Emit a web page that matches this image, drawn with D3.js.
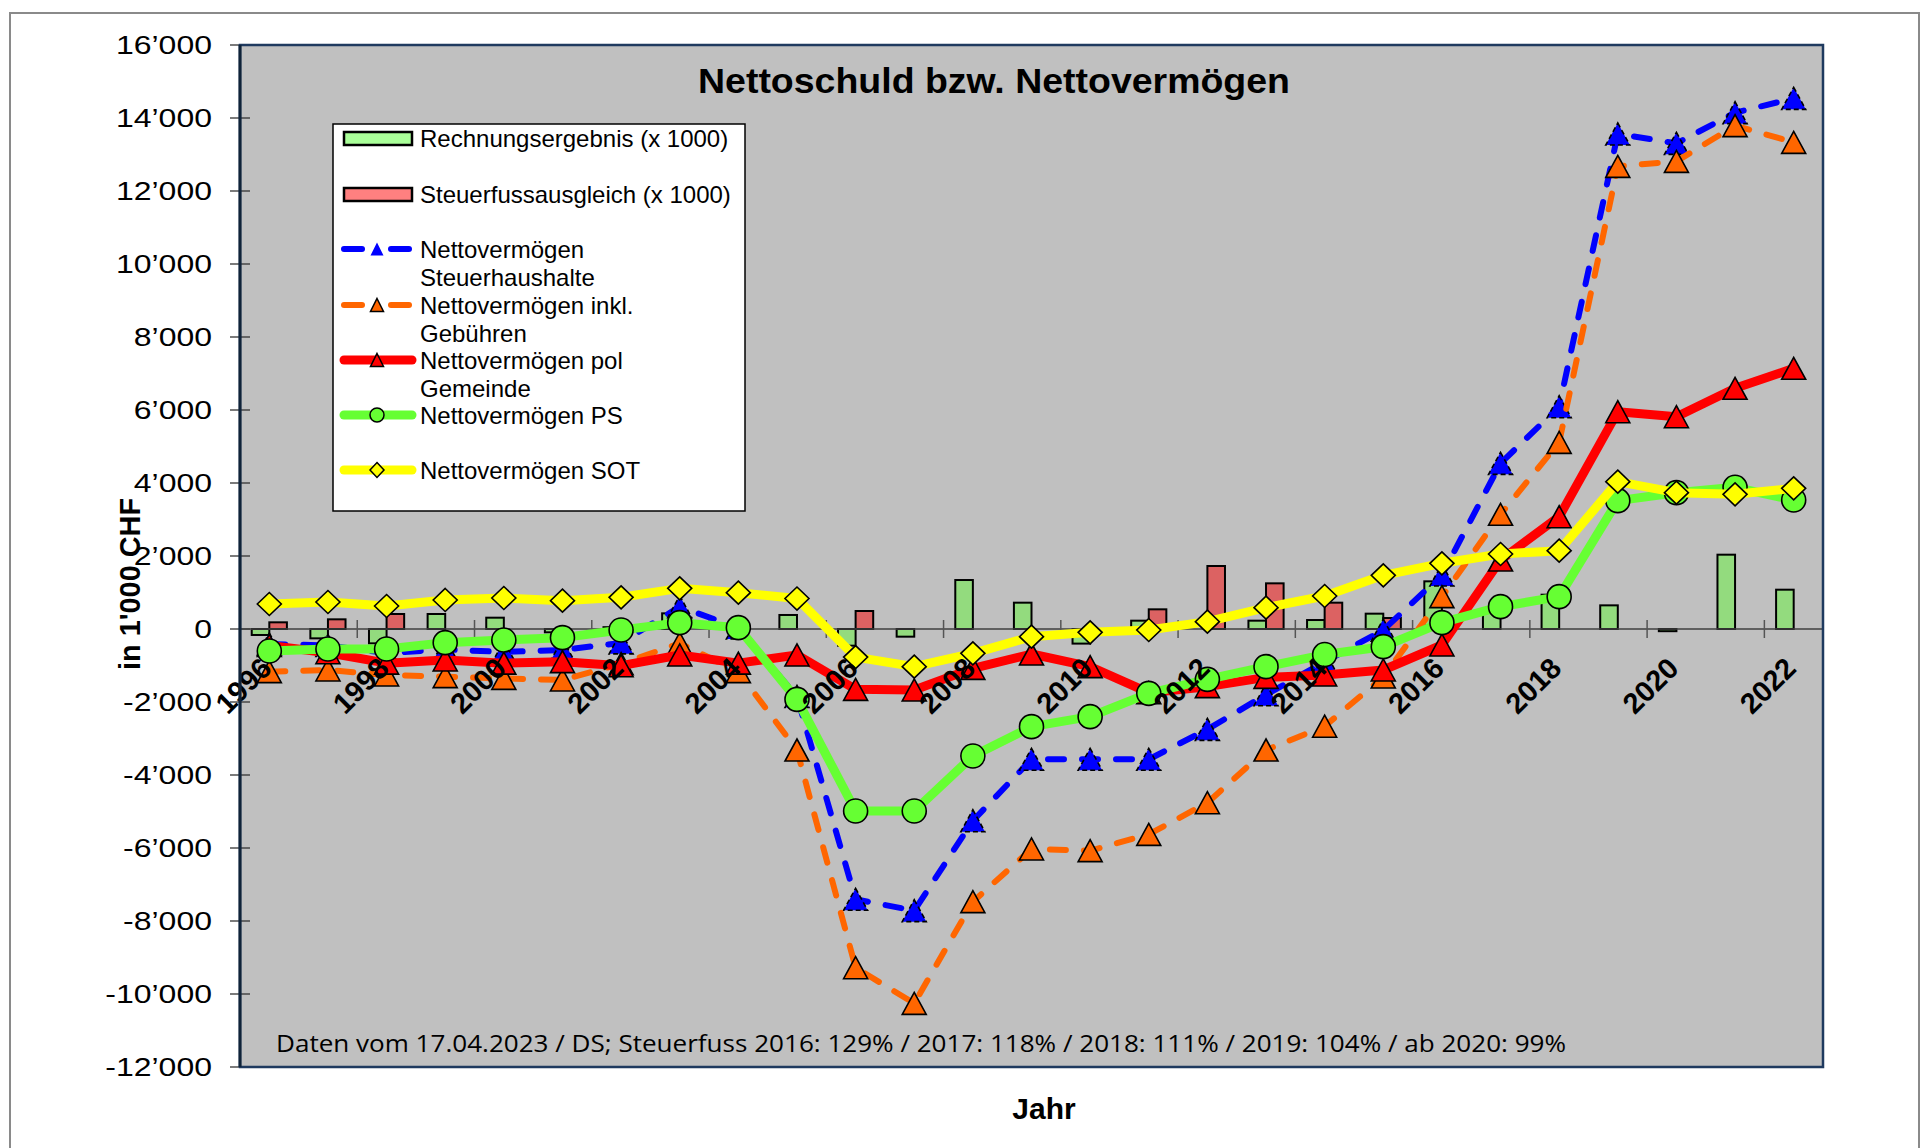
<!DOCTYPE html>
<html><head><meta charset="utf-8">
<script src="https://cdn.jsdelivr.net/npm/d3@7"></script>
<style>
html,body{margin:0;padding:0;background:#fff;}
svg{display:block;}
</style></head>
<body>
<svg id="chart" width="1930" height="1148"></svg>
<script>
// ---------- data ----------
const years = [1996,1997,1998,1999,2000,2001,2002,2003,2004,2005,2006,2007,2008,2009,2010,2011,2012,2013,2014,2015,2016,2017,2018,2019,2020,2021,2022];
const rechnungsergebnis = [-164,-256,-393,411,310,-91,50,429,0,384,-457,-210,1342,721,-400,228,0,228,246,420,1306,550,940,648,-60,2036,1077];
const steuerfussausgleich = [183,265,411,0,0,0,0,0,0,0,493,0,0,0,0,539,1726,1251,721,301,0,0,0,0,0,0,0];
const nvSteuerhaushalte = [-411,-450,-660,-560,-630,-575,-380,612,27,-1850,-7406,-7717,-5252,-3570,-3570,-3570,-2749,-1800,-900,-30,1480,4539,6091,13562,13306,14146,14539];
const nvInklGebuehren = [-1169,-1123,-1260,-1306,-1352,-1397,-950,-393,-1169,-3315,-9279,-10256,-7470,-6027,-6073,-5626,-4759,-3315,-2664,-1315,886,3142,5114,12676,12813,13790,13333];
const nvPolGemeinde = [-450,-650,-936,-849,-936,-895,-1005,-712,-936,-712,-1653,-1671,-1078,-685,-1032,-1744,-1580,-1324,-1260,-1123,-438,1890,3077,5954,5817,6594,7142];
const nvPS = [-603,-548,-548,-374,-301,-237,-27,174,37,-1927,-4986,-4986,-3479,-2676,-2402,-1763,-1379,-1032,-700,-484,174,612,886,3516,3735,3882,3534];
const nvSOT = [685,740,630,795,849,776,868,1114,995,835,-770,-1032,-667,-210,-91,-27,201,584,904,1471,1800,2055,2146,4036,3735,3690,3854];
const yTickValues = [-12000,-10000,-8000,-6000,-4000,-2000,0,2000,4000,6000,8000,10000,12000,14000,16000];
const xLabelYears = [1996,1998,2000,2002,2004,2006,2008,2010,2012,2014,2016,2018,2020,2022];
const titleText = "Nettoschuld bzw. Nettovermögen";
const yTitle = "in 1'000 CHF";
const xTitle = "Jahr";
const noteText = "Daten vom 17.04.2023 / DS; Steuerfuss 2016: 129% / 2017: 118% / 2018: 111% / 2019: 104% / ab 2020: 99%";

// ---------- layout ----------
const P = {left:240, right:1823, top:45, bottom:1067};
const svg = d3.select("#chart");
const FONT = "'Liberation Sans', Arial, sans-serif";

const x = d3.scaleBand().domain(years).range([P.left, P.right]).paddingInner(0).paddingOuter(0);
const y = d3.scaleLinear().domain([-12000, 16000]).range([P.bottom, P.top]);
const cx = d => x(d) + x.bandwidth()/2;
const loc = d3.formatLocale({decimal:".", thousands:"\u2019", grouping:[3], currency:["",""], minus:"-"});
const fmt = loc.format(",d");

// outer frame
svg.append("rect").attr("x",10).attr("y",13).attr("width",1909).attr("height",1160)
  .attr("fill","#fff").attr("stroke","#8a8a8a").attr("stroke-width",2);

// plot background
svg.append("rect").attr("x",P.left).attr("y",P.top).attr("width",P.right-P.left).attr("height",P.bottom-P.top)
  .attr("fill","#c0c0c0");

// y ticks & labels
const yt = svg.append("g");
yt.selectAll("line").data(yTickValues).join("line")
  .attr("x1",P.left-10).attr("x2",P.left+10).attr("y1",d=>y(d)).attr("y2",d=>y(d))
  .attr("stroke","#333").attr("stroke-width",1.3);
yt.selectAll("text").data(yTickValues).join("text")
  .attr("transform",d=>`translate(212,${y(d)+9}) scale(1.28,1)`)
  .attr("text-anchor","end").attr("font-family",FONT).attr("font-size",25).attr("fill","#000")
  .text(d=>fmt(d));

// bars
const bw = x.bandwidth()*0.3;
svg.append("g").selectAll("rect").data(years).join("rect")
  .attr("x",d=>cx(d)-bw).attr("width",bw)
  .attr("y",(d,i)=>y(Math.max(0,rechnungsergebnis[i])))
  .attr("height",(d,i)=>Math.abs(y(rechnungsergebnis[i])-y(0)))
  .attr("fill","#93db7e").attr("stroke","#000").attr("stroke-width",2)
  .attr("display",(d,i)=>rechnungsergebnis[i]===0?"none":null);
svg.append("g").selectAll("rect").data(years).join("rect")
  .attr("x",d=>cx(d)).attr("width",bw)
  .attr("y",(d,i)=>y(Math.max(0,steuerfussausgleich[i])))
  .attr("height",(d,i)=>Math.abs(y(steuerfussausgleich[i])-y(0)))
  .attr("fill","#dc6262").attr("stroke","#000").attr("stroke-width",2)
  .attr("display",(d,i)=>steuerfussausgleich[i]===0?"none":null);

// zero line + category ticks
svg.append("line").attr("x1",P.left).attr("x2",P.right).attr("y1",y(0)).attr("y2",y(0))
  .attr("stroke","#404040").attr("stroke-width",1.5);
const tickIdx = d3.range(2, years.length, 2);
svg.append("g").selectAll("line").data(tickIdx).join("line")
  .attr("x1",i=>x(years[i])).attr("x2",i=>x(years[i]))
  .attr("y1",y(0)-9).attr("y2",y(0)+9).attr("stroke","#555").attr("stroke-width",1.5);

// symbols
function triPath(w,h){return `M0,${-h/2}L${w/2},${h/2}L${-w/2},${h/2}Z`;}
function diaPath(w,h){return `M0,${-h/2}L${w/2},0L0,${h/2}L${-w/2},0Z`;}
function circPath(r){return `M${-r},0A${r},${r} 0 1,0 ${r},0A${r},${r} 0 1,0 ${-r},0Z`;}

const series = [
  {name:"Nettovermögen Steuerhaushalte", values:nvSteuerhaushalte, color:"#0000ff", width:6, dash:"16,18",
   marker:triPath(24,22), mfill:"#0000ff", mdash:"5,3"},
  {name:"Nettovermögen inkl. Gebühren", values:nvInklGebuehren, color:"#ff6600", width:6, dash:"16,18",
   marker:triPath(24,22), mfill:"#ff6600", mdash:null},
  {name:"Nettovermögen pol Gemeinde", values:nvPolGemeinde, color:"#ff0000", width:9, dash:null,
   marker:triPath(24,22), mfill:"#ff0000", mdash:null},
  {name:"Nettovermögen PS", values:nvPS, color:"#66ff33", width:9, dash:null,
   marker:circPath(12), mfill:"#66ff33", mdash:null},
  {name:"Nettovermögen SOT", values:nvSOT, color:"#ffff00", width:9, dash:null,
   marker:diaPath(24,23), mfill:"#ffff00", mdash:null}
];

const line = d3.line().x(d=>cx(d.year)).y(d=>y(d.v)).curve(d3.curveLinear);
series.forEach(s=>{
  const pts = years.map((yr,i)=>({year:yr, v:s.values[i]}));
  const g = svg.append("g");
  g.append("path").datum(pts).attr("d",line).attr("fill","none")
    .attr("stroke",s.color).attr("stroke-width",s.width)
    .attr("stroke-linecap",s.dash?"round":"round").attr("stroke-linejoin","round")
    .attr("stroke-dasharray",s.dash);
  g.selectAll("path.m").data(pts).join("path").attr("class","m")
    .attr("transform",d=>`translate(${cx(d.year)},${y(d.v)})`)
    .attr("d",s.marker).attr("fill",s.mfill).attr("stroke","#000").attr("stroke-width",1.6)
    .attr("stroke-dasharray",s.mdash);
});

// x labels
svg.append("g").selectAll("text").data(xLabelYears).join("text")
  .attr("transform",d=>`translate(${cx(d)+4},${y(0)+41}) rotate(-45)`)
  .attr("text-anchor","end").attr("font-family",FONT).attr("font-weight","bold")
  .attr("font-size",29).attr("fill","#000").text(d=>d);

// plot border
svg.append("rect").attr("x",P.left).attr("y",P.top).attr("width",P.right-P.left).attr("height",P.bottom-P.top)
  .attr("fill","none").attr("stroke","#1f3a5f").attr("stroke-width",2.5);
svg.append("line").attr("x1",P.left).attr("x2",P.left).attr("y1",P.top).attr("y2",P.bottom)
  .attr("stroke","#0f2238").attr("stroke-width",3);

// title
svg.append("text").attr("x",994).attr("y",93).attr("text-anchor","middle")
  .attr("font-family",FONT).attr("font-weight","bold").attr("font-size",35)
  .attr("textLength",592).attr("lengthAdjust","spacingAndGlyphs").text(titleText);

// legend
const L = svg.append("g");
L.append("rect").attr("x",333).attr("y",124).attr("width",412).attr("height",387)
  .attr("fill","#fff").attr("stroke","#000").attr("stroke-width",1.5);
const lx = 420, fs = 24;
function ltext(lines, cy){
  lines.forEach((t,k)=>{
    L.append("text").attr("x",lx).attr("y",cy+8.5+k*28).attr("font-family",FONT)
      .attr("font-size",fs).attr("fill","#000").text(t);
  });
}
L.append("rect").attr("x",344).attr("y",132).attr("width",68).attr("height",13)
  .attr("fill","#aaff99").attr("stroke","#000").attr("stroke-width",2.5);
ltext(["Rechnungsergebnis (x 1000)"],138);
L.append("rect").attr("x",344).attr("y",188).attr("width",68).attr("height",13)
  .attr("fill","#ff8080").attr("stroke","#000").attr("stroke-width",2.5);
ltext(["Steuerfussausgleich (x 1000)"],194);

const legRows = [
  {s:series[0], cy:249, lines:["Nettovermögen","Steuerhaushalte"], m:triPath(13,13)},
  {s:series[1], cy:305, lines:["Nettovermögen inkl.","Gebühren"], m:triPath(13,13)},
  {s:series[2], cy:360, lines:["Nettovermögen pol","Gemeinde"], m:triPath(13,13)},
  {s:series[3], cy:415, lines:["Nettovermögen PS"], m:circPath(7)},
  {s:series[4], cy:470, lines:["Nettovermögen SOT"], m:diaPath(14,15)}
];
legRows.forEach(r=>{
  if(r.s.dash){
    [[344,362],[391,409]].forEach(seg=>{
      L.append("line").attr("x1",seg[0]).attr("x2",seg[1]).attr("y1",r.cy).attr("y2",r.cy)
        .attr("stroke",r.s.color).attr("stroke-width",r.s.width).attr("stroke-linecap","round");
    });
  } else {
    L.append("line").attr("x1",344).attr("x2",412).attr("y1",r.cy).attr("y2",r.cy)
      .attr("stroke",r.s.color).attr("stroke-width",r.s.width).attr("stroke-linecap","round");
  }
  L.append("path").attr("transform",`translate(377,${r.cy})`).attr("d",r.m)
    .attr("fill",r.s.mfill).attr("stroke",r.s===series[0]?"none":"#000").attr("stroke-width",1.5);
  ltext(r.lines, r.cy);
});

// axis titles
svg.append("text").attr("transform","translate(140,584) rotate(-90)").attr("text-anchor","middle")
  .attr("font-family",FONT).attr("font-weight","bold").attr("font-size",30)
  .attr("textLength",172).attr("lengthAdjust","spacingAndGlyphs").text(yTitle);
svg.append("text").attr("x",1044).attr("y",1119).attr("text-anchor","middle")
  .attr("font-family",FONT).attr("font-weight","bold").attr("font-size",30).text(xTitle);

// note
svg.append("text").attr("x",276).attr("y",1052)
  .attr("font-family","'Open Sans','Noto Sans',sans-serif").attr("font-size",24)
  .attr("textLength",1290).attr("lengthAdjust","spacingAndGlyphs").text(noteText);
</script>
</body></html>
